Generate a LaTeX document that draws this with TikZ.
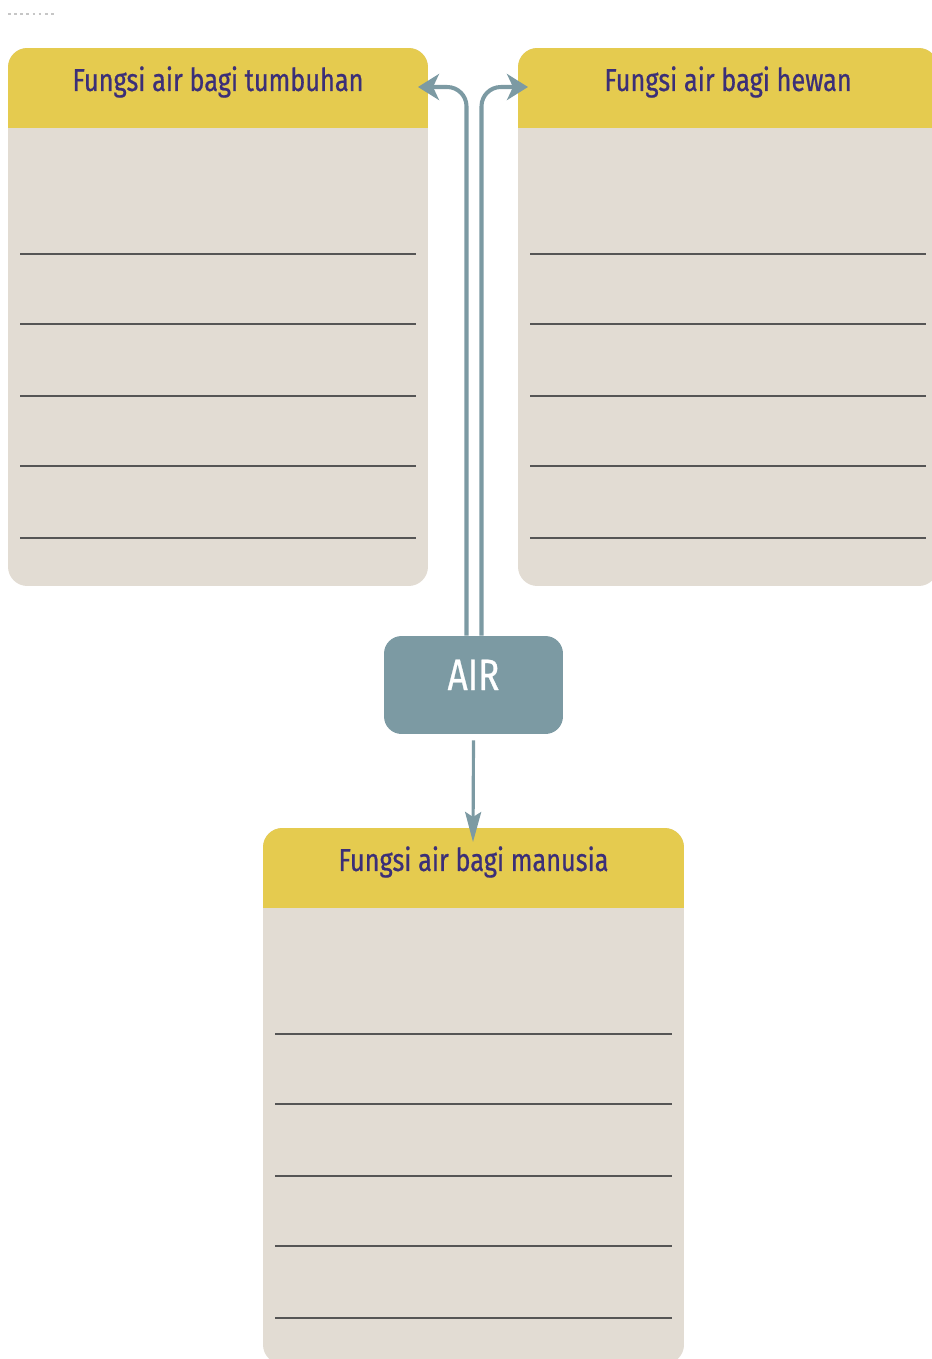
\documentclass[tikz,border=0pt]{standalone}
\usepackage{fontspec}
\setmainfont{Fira Sans}
\newfontfamily\judulfont[FakeStretch=0.8, FakeBold=0.6]{Fira Sans}
\usetikzlibrary{arrows.meta,positioning}

\definecolor{kuning}{HTML}{E5CB4F}
\definecolor{krem}{HTML}{E2DCD3}
\definecolor{biru}{HTML}{7C9AA3}
\definecolor{ungu}{HTML}{3B2F78}
\definecolor{garis}{HTML}{555555}

\tikzset{
  judul/.style={text=ungu, font=\judulfont\fontsize{18}{22}\selectfont, inner sep=0pt},
  kotakair/.style={fill=biru, rounded corners=10pt, minimum width=3.58cm,
    inner xsep=0pt, inner ysep=0pt, text height=1.08cm, text depth=0.88cm,
    text=white, font=\judulfont\fontsize{25}{30}\selectfont},
  panah/.style={draw=biru, line width=2.3pt, rounded corners=11pt,
    -{Stealth[length=0.42cm, width=0.52cm, inset=0.12cm]}},
}

% kotak isian: x1, y1 (atas), x2, y2 (bawah), nama, judul
\newcommand{\kotak}[6]{
  \begin{scope}
    \clip[rounded corners=11pt] (#1,#2) rectangle (#3,#4);
    \fill[krem] (#1,#2) rectangle (#3,#4);
    \fill[kuning] (#1,#2) rectangle (#3,#2+80);
  \end{scope}
  \foreach \dy in {206,276,348,418,490}
    \draw[garis, line width=1pt] (#1+12,#2+\dy) -- (#3-12,#2+\dy);
  \node[judul] (#5) at ({(#1+#3)/2},#2+34) {#6};
}

\begin{document}
\begin{tikzpicture}[x=0.02cm, y=-0.02cm]
  \useasboundingbox (0,0) rectangle (932,1359);
  \clip (0,0) rectangle (932,1359);

  \draw[gray!45, line width=0.8pt, dash pattern=on 1.5pt off 2pt] (8,14) -- (57,14);

  \kotak{8}{48}{428}{586}{tumbuhan}{Fungsi air bagi tumbuhan}
  \kotak{518}{48}{938}{586}{hewan}{Fungsi air bagi hewan}
  \kotak{263}{828}{684}{1364}{manusia}{Fungsi air bagi manusia}

  \node[kotakair] (air) at (473.5,685) {AIR};

  \coordinate (ujungkiri) at (418,87);
  \coordinate (ujungkanan) at (528,87);
  \coordinate (ujungbawah) at (473,842);

  \draw[panah] ([xshift=-0.14cm]air.north) |- (ujungkiri);
  \draw[panah] ([xshift=0.16cm]air.north) |- (ujungkanan);
  \draw[draw=biru, line width=1.8pt, -{Stealth[length=0.6cm, width=0.32cm, inset=0.1cm]}]
    ([yshift=-0.12cm]air.south) -- (ujungbawah);
\end{tikzpicture}
\end{document}
